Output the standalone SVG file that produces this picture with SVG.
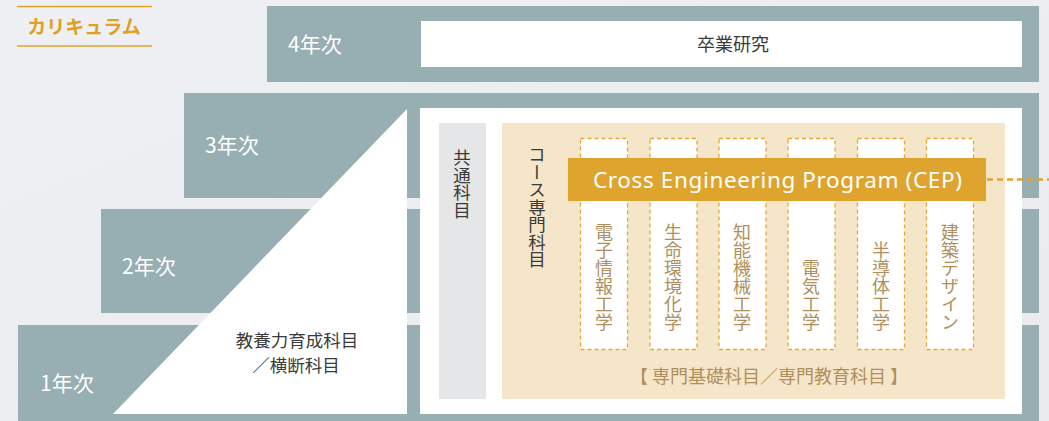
<svg xmlns="http://www.w3.org/2000/svg" width="1049" height="421" viewBox="0 0 1049 421">
<defs>
<style>
.bar{fill:#97aeb3}
.yr{font-family:"Noto Sans CJK JP","Noto Sans",sans-serif;font-size:21px;fill:#ffffff}
.jp{font-family:"Noto Sans CJK JP",sans-serif;fill:#3a3a3a}
.vt{writing-mode:vertical-rl;font-family:"Noto Sans CJK JP",sans-serif}
.col{fill:#ffffff;stroke:#e2aa3c;stroke-width:1.3;stroke-dasharray:4 3}
.ct{fill:#b08f5c;font-size:18px}
</style>
<linearGradient id="bg" x1="0" y1="0" x2="1" y2="1">
<stop offset="0" stop-color="#eef0f3"/>
<stop offset="1" stop-color="#e9ebef"/>
</linearGradient>
</defs>
<rect x="0" y="0" width="1049" height="421" fill="url(#bg)"/>

<g id="title">
<line x1="17" y1="6.5" x2="152" y2="6.5" stroke="#e3a425" stroke-width="1.5"/>
<line x1="17" y1="46" x2="152" y2="46" stroke="#e3a425" stroke-width="1.5"/>
<text x="84" y="34" text-anchor="middle" font-family="'Noto Sans CJK JP',sans-serif" font-size="19" font-weight="bold" fill="#e0a020">カリキュラム</text>
</g>

<g id="year4">
<rect class="bar" x="267" y="6" width="772" height="76"/>
<text class="yr" x="288" y="52">4年次</text>
<rect x="421" y="21" width="601" height="46" fill="#ffffff"/>
<text class="jp" x="733" y="51" text-anchor="middle" font-size="18">卒業研究</text>
</g>

<g id="year3">
<rect class="bar" x="184" y="93" width="855" height="105"/>
<text class="yr" x="205" y="153">3年次</text>
</g>
<g id="year2">
<rect class="bar" x="101" y="209" width="938" height="104"/>
<text class="yr" x="122" y="274">2年次</text>
</g>
<g id="year1">
<rect class="bar" x="18" y="325" width="1021" height="96"/>
<text class="yr" x="40" y="391">1年次</text>
</g>

<g id="liberal-arts">
<polygon points="407,109 407,414 113,414" fill="#ffffff"/>
<text class="jp" x="297" y="347" text-anchor="middle" font-size="17.5">教養力育成科目</text>
<text class="jp" x="296" y="372" text-anchor="middle" font-size="17.5">／横断科目</text>
</g>

<g id="main-box">
<rect x="420" y="108" width="602" height="306" fill="#ffffff"/>
</g>

<g id="common">
<rect x="439" y="123" width="47" height="276" fill="#e5e6e8"/>
<text class="vt jp" x="462" y="149" font-size="17.5">共通科目</text>
</g>

<g id="course">
<rect x="502" y="123" width="503" height="276" fill="#f5e6c9"/>
<text class="vt jp" x="537" y="146" font-size="17.5">コース専門科目</text>
<text x="769" y="383" text-anchor="middle" font-family="'Noto Sans CJK JP',sans-serif" font-size="18" fill="#b08f5c">【 専門基礎科目／専門教育科目 】</text>
</g>

<g id="col1"><rect class="col" x="580.5" y="138.5" width="47" height="211"/><text class="vt ct" x="604" y="331" text-anchor="end">電子情報工学</text></g>
<g id="col2"><rect class="col" x="650" y="138.5" width="47" height="211"/><text class="vt ct" x="673" y="331" text-anchor="end">生命環境化学</text></g>
<g id="col3"><rect class="col" x="719" y="138.5" width="47" height="211"/><text class="vt ct" x="742" y="331" text-anchor="end">知能機械工学</text></g>
<g id="col4"><rect class="col" x="788" y="138.5" width="47" height="211"/><text class="vt ct" x="811" y="331" text-anchor="end">電気工学</text></g>
<g id="col5"><rect class="col" x="857.5" y="138.5" width="47" height="211"/><text class="vt ct" x="881" y="331" text-anchor="end">半導体工学</text></g>
<g id="col6"><rect class="col" x="926.5" y="138.5" width="47" height="211"/><text class="vt ct" x="950" y="331" text-anchor="end">建築デザイン</text></g>

<g id="cep">
<rect x="568" y="158" width="418" height="43" fill="#dfa42e"/>
<text x="593" y="187.5" font-family="'Noto Sans','Open Sans',sans-serif" font-size="22.5" fill="#ffffff" textLength="369" lengthAdjust="spacing">Cross Engineering Program (CEP)</text>
</g>

<g id="connectors">
<line x1="987" y1="179.5" x2="1049" y2="179.5" stroke="#dfa42e" stroke-width="2.5" stroke-dasharray="6 4"/>
</g>
</svg>
